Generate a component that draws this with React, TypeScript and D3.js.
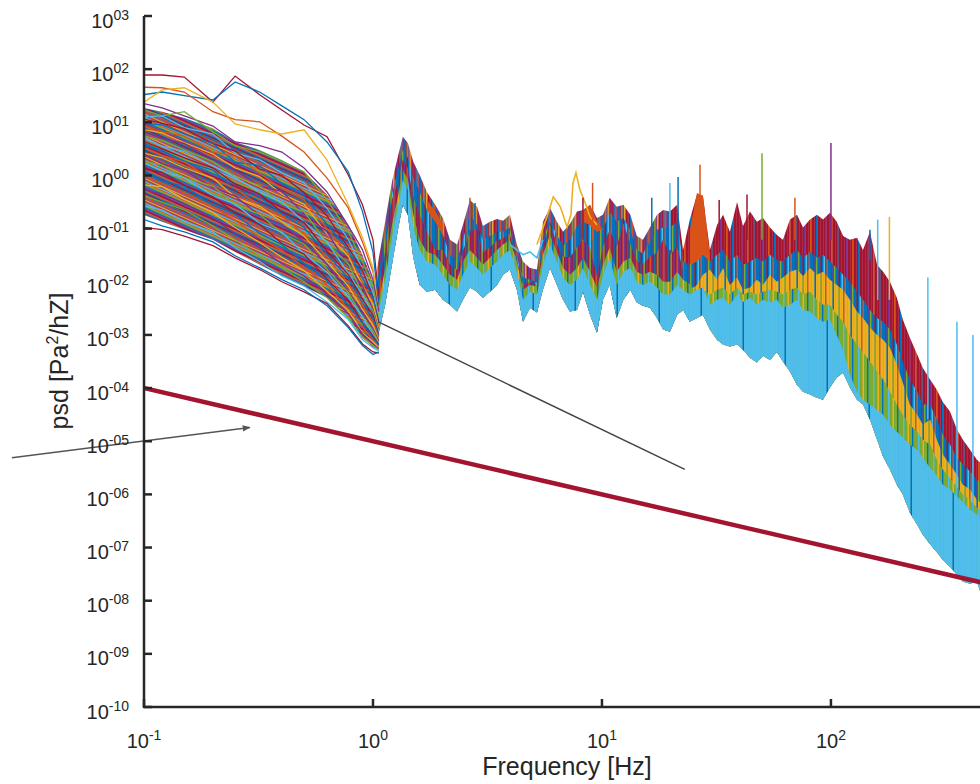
import * as d3 from "d3";
import { useEffect, useRef } from "react";

const W = 980;
const H = 784;
const font = "'Liberation Sans', Arial, Helvetica, sans-serif";

// matlab default line colours
const palette = ["#0072BD", "#D95319", "#EDB120", "#7E2F8E", "#77AC30", "#4DBEEE", "#A2142F"];
const [BL, OR, YE, PU, GR, SK, RD] = palette;

// axis ticks (exponents)
const yTickExps = [3, 2, 1, 0, -1, -2, -3, -4, -5, -6, -7, -8, -9, -10];
const xTickExps = [-1, 0, 1, 2];

// ---- low frequency fan of spectra (log10 psd) ----
const fanFreq = [0.1, 0.12, 0.15, 0.2, 0.25, 0.32, 0.4, 0.5, 0.63, 0.78, 0.9, 1.0, 1.06];
const fanCurves = [
  [1.89, 1.89, 1.85, 1.38, 1.87, 1.52, 1.23, 0.95, 0.73, 0.01, -0.55, -1.21, -2.34],
  [1.52, 1.57, 1.5, 1.42, 1.76, 1.57, 1.31, 1.05, 0.63, 0.07, -0.68, -1.44, -2.43],
  [1.66, 1.65, 1.57, 1.2, 1.05, 1.01, 0.74, 0.44, -0.05, -0.61, -1.25, -1.81, -2.53],
  [1.38, 1.61, 1.65, 1.38, 0.97, 0.86, 0.78, 0.86, 0.29, -0.55, -1.17, -1.74, -2.62],
  [1.35, 1.27, 1.12, 0.93, 0.63, 0.56, 0.44, 0.14, -0.31, -0.95, -1.4, -1.96, -2.56],
  [1.23, 1.12, 1.2, 0.82, 0.56, 0.44, 0.26, 0.07, -0.46, -1.06, -1.62, -2.08, -2.68],
  [1.1, 1.12, 0.9, 0.78, 0.42, 0.3, 0.05, -0.14, -0.62, -1.2, -1.76, -2.19, -2.71],
  [1.06, 0.98, 0.88, 0.6, 0.46, 0.12, 0.0, -0.32, -0.76, -1.36, -1.78, -2.3, -2.75],
  [0.98, 0.95, 0.78, 0.6, 0.25, 0.19, -0.16, -0.38, -0.92, -1.4, -1.93, -2.28, -2.81],
  [0.95, 0.82, 0.74, 0.44, 0.36, 0.04, -0.25, -0.46, -1.0, -1.48, -2.04, -2.38, -2.83],
  [0.86, 0.8, 0.62, 0.4, 0.14, -0.02, -0.35, -0.54, -1.1, -1.52, -2.08, -2.42, -2.86],
  [0.82, 0.7, 0.6, 0.3, 0.1, -0.2, -0.3, -0.72, -1.06, -1.7, -2.08, -2.52, -2.9],
  [0.74, 0.66, 0.48, 0.26, -0.02, -0.19, -0.54, -0.68, -1.28, -1.66, -2.22, -2.54, -2.94],
  [0.72, 0.55, 0.45, 0.18, -0.04, -0.31, -0.5, -0.87, -1.25, -1.84, -2.24, -2.62, -2.96],
  [0.64, 0.5, 0.33, 0.14, -0.16, -0.35, -0.69, -0.88, -1.43, -1.86, -2.33, -2.62, -3.0],
  [0.56, 0.47, 0.26, 0.1, -0.26, -0.4, -0.72, -0.98, -1.48, -1.93, -2.4, -2.7, -3.02],
  [0.52, 0.38, 0.25, -0.08, -0.24, -0.57, -0.77, -1.1, -1.52, -2.03, -2.44, -2.77, -3.05],
  [0.42, 0.33, 0.14, -0.05, -0.41, -0.58, -0.87, -1.14, -1.62, -2.08, -2.52, -2.82, -3.09],
  [0.4, 0.22, 0.1, -0.23, -0.39, -0.75, -0.92, -1.25, -1.67, -2.18, -2.58, -2.88, -3.11],
  [0.27, 0.2, -0.04, -0.2, -0.56, -0.73, -1.09, -1.29, -1.77, -2.2, -2.66, -2.92, -3.15],
  [0.24, 0.08, -0.05, -0.38, -0.54, -0.9, -1.07, -1.47, -1.82, -2.29, -2.66, -2.99, -3.17],
  [0.12, 0.06, -0.19, -0.4, -0.71, -0.92, -1.28, -1.48, -1.95, -2.35, -2.77, -3.02, -3.18],
  [0.08, -0.1, -0.2, -0.56, -0.73, -1.09, -1.3, -1.65, -1.98, -2.44, -2.78, -3.06, -3.2],
  [-0.02, -0.15, -0.32, -0.6, -0.84, -1.17, -1.41, -1.73, -2.06, -2.51, -2.85, -3.1, -3.22],
  [-0.18, -0.21, -0.45, -0.7, -0.98, -1.26, -1.54, -1.79, -2.18, -2.54, -2.96, -3.13, -3.24],
  [-0.27, -0.35, -0.53, -0.8, -1.1, -1.36, -1.66, -1.89, -2.23, -2.6, -2.98, -3.17, -3.26],
  [-0.38, -0.5, -0.65, -0.95, -1.21, -1.51, -1.74, -2.0, -2.3, -2.68, -3.05, -3.2, -3.28],
  [-0.57, -0.65, -0.87, -1.06, -1.36, -1.62, -1.89, -2.08, -2.38, -2.71, -3.09, -3.24, -3.3],
  [-0.98, -1.02, -1.14, -1.32, -1.55, -1.77, -2.0, -2.19, -2.41, -2.83, -3.17, -3.32, -3.34],
  [-0.83, -0.95, -1.06, -1.25, -1.51, -1.74, -1.96, -2.15, -2.45, -2.86, -3.2, -3.37, -3.32],
];
const fanCoreTop = [1.27, 1.2, 1.08, 0.89, 0.63, 0.48, 0.29, 0.07, -0.36, -0.93, -1.49, -2.0, -2.43];
const fanCoreBottom = [-0.74, -0.87, -1.02, -1.21, -1.44, -1.68, -1.89, -2.09, -2.3, -2.68, -3.05, -3.24, -3.28];

// ---- the dense band above 1 Hz (log10 psd) ----
const bandFreq = [
  1.03, 1.13, 1.21, 1.29, 1.35, 1.42, 1.5, 1.6, 1.72, 1.87,
  2.02, 2.17, 2.33, 2.47, 2.65, 2.85, 3.02, 3.24, 3.48, 3.7,
  3.96, 4.25, 4.52, 4.85, 5.2, 5.52, 5.93, 6.36, 6.76, 7.25,
  7.78, 8.26, 8.87, 9.51, 10.1, 10.8, 11.6, 12.4, 13.3, 14.2,
  15.1, 16.2, 17.4, 18.5, 19.8, 21.3, 22.6, 24.2, 26.0, 27.6,
  29.6, 31.8, 33.8, 36.2, 38.9, 41.3, 44.3, 47.5, 50.5, 54.2,
  58.1, 61.7, 66.2, 71.1, 75.5, 81.0, 86.9, 92.3, 99.0, 106,
  113, 121, 130, 138, 148, 159, 169, 181, 194, 206,
  221, 238, 252, 271, 290, 308, 331, 355, 377, 405,
  434, 461, 500,
];
const bandTop = [
  -1.87, -0.87, -0.12, 0.39, 0.73, 0.61, 0.26, 0.01, -0.31, -0.55,
  -0.8, -1.21, -1.3, -0.93, -0.46, -0.59, -0.95, -0.87, -0.82, -0.85,
  -0.74, -1.3, -1.62, -1.74, -1.77, -0.87, -0.61, -0.87, -1.06, -0.91,
  -0.68, -0.65, -0.55, -0.8, -0.74, -0.42, -0.59, -0.55, -0.74, -1.14,
  -1.21, -0.98, -0.74, -0.65, -0.68, -0.55, -1.4, -0.83, -0.36, -0.38,
  -1.4, -0.93, -0.74, -1.06, -0.5, -0.95, -0.68, -0.87, -0.8, -0.98,
  -1.12, -1.21, -0.83, -0.74, -0.98, -0.83, -0.74, -0.83, -0.7, -0.87,
  -1.14, -1.21, -1.17, -1.4, -1.06, -1.68, -1.81, -2.0, -2.3, -2.71,
  -3.05, -3.37, -3.62, -3.84, -4.03, -4.26, -4.44, -4.78, -4.97, -5.16,
  -5.35, -5.44, -5.53,
];
const bandBottom = [
  -3.18, -2.43, -1.68, -0.98, -0.55, -0.74, -1.55, -2.06, -2.19, -2.15,
  -2.34, -2.43, -2.56, -2.34, -2.11, -2.19, -2.3, -2.19, -2.06, -1.87,
  -1.77, -2.15, -2.75, -2.49, -2.58, -2.15, -1.74, -2.06, -2.34, -2.56,
  -2.53, -2.19, -2.62, -2.96, -2.34, -2.06, -2.68, -2.34, -2.15, -2.39,
  -2.45, -2.49, -2.68, -2.9, -2.94, -2.62, -2.53, -2.75, -2.68, -2.62,
  -2.9, -3.09, -3.18, -3.22, -3.18, -3.28, -3.43, -3.52, -3.39, -3.47,
  -3.32, -3.5, -3.69, -3.94, -4.07, -4.12, -4.18, -4.22, -3.99, -3.8,
  -3.71, -3.99, -4.22, -4.31, -4.59, -4.97, -5.29, -5.53, -5.82, -6.0,
  -6.34, -6.57, -6.76, -6.94, -7.09, -7.23, -7.36, -7.51, -7.64, -7.68,
  -7.64, -7.98, -7.98,
];
const orangeTop = [
  null, null, null, null, null, null, null, null, -0.46, -0.68,
  -0.91, null, null, null, null, null, null, null, null, null,
  null, null, null, null, null, null, null, null, null, null,
  null, -0.68, -0.55, -0.87, -1.02, null, null, null, null, null,
  null, null, null, null, null, null, null, -1.02, -0.33, -0.38,
  -1.49,
];
const blueTop = [
  -2.15, -1.12, -0.36, 0.14, 0.48, 0.33, -0.05, -0.31, -0.65, -0.87,
  -1.12, -1.49, -1.59, -1.21, -0.74, -0.93, -1.21, -1.14, -1.06, -1.06,
  -0.98, -1.55, -1.92, -1.96, -2.02, -1.17, -0.87, -1.12, -1.32, -1.21,
  -0.95, -0.87, -0.93, -1.06, -1.02, -0.68, -0.87, -0.8, -1.02, -1.4,
  -1.47, -1.25, -1.02, -0.98, -0.98, -0.87, -1.62, -1.68, -1.62, -1.49,
  -1.62, -1.49, -1.4, -1.62, -1.49, -1.68, -1.62, -1.55, -1.62, -1.49,
  -1.59, -1.62, -1.49, -1.4, -1.55, -1.44, -1.55, -1.49, -1.62, -1.74,
  -1.87, -2.0, -2.19, -2.34, -2.53, -2.68, -2.75, -2.9, -3.18, -3.5,
  -3.84, -4.07, -4.31, -4.31, -4.59, -4.88, -5.06, -5.31, -5.44, -5.57,
  -5.72, -5.82, -5.91,
];
const redMidTop = [
  -2.42, -1.43, -0.45, -0.11, 0.3, 0.13, -0.4, -0.76, -1.05, -1.4,
  -1.4, -1.68, -1.78, -1.42, -1.07, -1.0, -1.45, -1.35, -1.23, -1.18,
  -1.1, -1.59, -2.04, -2.01, -2.06, -1.33, -0.92, -1.28, -1.53, -1.54,
  -1.35, -1.21, -1.37, -1.9, -1.35, -1.02, -1.34, -0.9, -1.29, -1.61,
  -1.67, -1.53, -1.45, -1.2, -1.49, -1.34, -1.79,
];
const yellowTop = [
  null, null, null, null, null, null, null, null, null, null,
  null, null, null, null, null, null, null, null, null, null,
  null, null, null, null, null, null, null, null, null, null,
  null, null, null, null, null, null, null, null, null, null,
  null, null, null, null, null, null, null, -2.15, -2.06, -1.87,
  -1.77, -1.96, -1.74, -2.06, -1.92, -2.15, -2.11, -1.96, -2.06, -1.87,
  -2.0, -1.92, -1.81, -1.77, -1.89, -1.74, -1.87, -1.81, -1.96, -2.06,
  -2.15, -2.34, -2.56, -2.68, -2.86, -3.0, -3.09, -3.24, -3.56, -3.9,
  -4.31, -4.5, -4.69, -4.59, -4.97, -5.25, -5.44, -5.63, -5.82, -5.91,
  -6.1, -6.19, -6.29,
];
const greenTop = [
  -2.68, -1.74, -0.93, -0.36, 0.11, -0.08, -0.74, -1.21, -1.44, -1.49,
  -1.68, -1.87, -1.96, -1.62, -1.4, -1.55, -1.68, -1.55, -1.4, -1.3,
  -1.21, -1.62, -2.15, -2.06, -2.09, -1.49, -1.12, -1.44, -1.74, -1.87,
  -1.74, -1.55, -1.81, -2.11, -1.68, -1.36, -1.81, -1.62, -1.55, -1.81,
  -1.87, -1.81, -1.87, -2.0, -2.0, -1.81, -1.96, -2.04, -2.24, -2.15,
  -2.24, -2.15, -2.11, -2.24, -2.11, -2.24, -2.19, -2.24, -2.19, -2.15,
  -2.19, -2.24, -2.15, -2.11, -2.24, -2.19, -2.34, -2.43, -2.43, -2.62,
  -2.75, -3.0, -3.18, -3.32, -3.5, -3.69, -3.84, -4.07, -4.31, -4.5,
  -4.69, -4.82, -4.97, -5.06, -5.35, -5.53, -5.69, -5.86, -6.0, -6.1,
  -6.25, -6.32, -6.44,
];
const skyTop = [
  -2.81, -1.96, -1.17, -0.55, -0.08, -0.27, -0.98, -1.4, -1.62, -1.68,
  -1.87, -2.06, -2.15, -1.87, -1.62, -1.74, -1.87, -1.74, -1.62, -1.49,
  -1.4, -1.81, -2.34, -2.19, -2.24, -1.68, -1.3, -1.62, -1.92, -2.06,
  -1.96, -1.74, -2.06, -2.34, -1.87, -1.55, -2.06, -1.81, -1.74, -2.0,
  -2.06, -2.0, -2.11, -2.24, -2.24, -2.06, -2.15, -2.24, -2.15, -2.11,
  -2.43, -2.34, -2.3, -2.43, -2.24, -2.38, -2.3, -2.43, -2.34, -2.39,
  -2.34, -2.49, -2.43, -2.34, -2.53, -2.56, -2.68, -2.75, -2.71, -3.0,
  -3.28, -3.75, -4.07, -4.22, -4.31, -4.41, -4.5, -4.69, -4.82, -4.93,
  -5.06, -5.16, -5.31, -5.5, -5.65, -5.82, -5.91, -6.04, -6.15, -6.29,
  -6.38, -6.48, -6.57,
];

// single spectra standing out of the band
const yellowOutFreq = [5.2, 5.75, 6.13, 6.58, 7.04, 7.32, 7.47, 7.7, 8.01, 8.42, 8.87, 9.51];
const yellowOutPsd = [-1.3, -0.78, -0.4, -0.59, -0.97, -0.74, -0.14, 0.05, -0.27, -0.5, -0.78, -0.93];
const skyOutFreq = [3.96, 4.25, 4.52, 4.85, 5.2, 5.52];
const skyOutPsd = [-1.3, -1.4, -1.49, -1.44, -1.55, -1.21];

// narrow peaks (log10 psd top / foot) and the series they belong to
const spikeFreq = [2.65, 2.79, 8.26, 9.1, 16.5, 19.8, 21.5, 26.8, 32.5, 43, 50, 69.6, 100, 148, 160, 180, 265, 355, 417];
const spikeTop = [-0.42, -0.52, -0.42, -0.14, -0.42, -0.14, -0.03, 0.2, -0.46, -0.36, 0.42, -0.42, 0.61, -1.02, -0.83, -0.78, -1.92, -2.75, -3.0];
const spikeFoot = [-1.02, -1.02, -1.21, -1.21, -1.21, -1.4, -1.4, -0.83, -1.21, -1.21, -1.21, -1.21, -1.21, -1.6, -2.34, -2.34, -4.59, -7.23, -7.6];
const spikeSeries = [1, 0, 6, 1, 0, 5, 0, 1, 6, 6, 4, 1, 3, 0, 5, 2, 5, 5, 5];

// reference slope
const refFreq = [0.1, 500];
const refPsd = [1e-4, 2e-8];

// annotation strokes [freq, log10 psd]
const pointerLine = [[1.05, -2.75], [23.0, -5.53]];
const arrowLine = [[0.0265, -5.31], [0.29, -4.74]];

const App = () => {
  const svgRef = useRef<SVGSVGElement>(null);

  useEffect(() => {
    const svg = d3.select(svgRef.current);
    svg.selectAll("*").remove();

    const x = d3.scaleLog().domain([0.1, 500]).range([144, 991]);
    const y = d3.scaleLog().domain([1e-10, 1e3]).range([707, 16]);
    const p = (v: number) => y(Math.pow(10, v));

    const defs = svg.append("defs");
    defs
      .append("clipPath")
      .attr("id", "plotClip")
      .append("rect")
      .attr("x", 145)
      .attr("y", 16)
      .attr("width", W - 145)
      .attr("height", 707 - 16);
    defs
      .append("marker")
      .attr("id", "arrowHead")
      .attr("viewBox", "0 0 10 10")
      .attr("refX", 9)
      .attr("refY", 5)
      .attr("markerWidth", 8)
      .attr("markerHeight", 8)
      .attr("markerUnits", "userSpaceOnUse")
      .attr("orient", "auto")
      .append("path")
      .attr("d", "M0,1 L10,5 L0,9 z")
      .attr("fill", "#555");

    // streaky textures standing in for hundreds of overplotted spectra
    const stripes = (id: string, colors: string[], sw: number, angle: number) => {
      const pat = defs
        .append("pattern")
        .attr("id", id)
        .attr("patternUnits", "userSpaceOnUse")
        .attr("width", colors.length * sw)
        .attr("height", 20)
        .attr("patternTransform", `rotate(${angle})`);
      colors.forEach((c, i) => {
        pat.append("rect").attr("x", i * sw).attr("y", 0).attr("width", sw + 0.3).attr("height", 20).attr("fill", c);
      });
      return `url(#${id})`;
    };
    const fanMix = stripes("fanMix", [RD, BL, OR, PU, YE, RD, SK, OR, GR, BL, PU, RD, OR, BL], 1.4, 114);
    const lowTop = stripes("lowTop", [PU, RD, BL, OR, PU, BL, RD, GR, PU, YE, RD], 1.5, 0);
    const blueMix = stripes("blueMix", [BL, BL, PU, BL, GR, BL, BL, RD, BL, SK, BL, OR], 1.5, 0);
    const redMix = stripes("redMix", [RD, OR, PU, RD, BL, RD, GR, RD, PU], 1.5, 0);
    const redHigh = stripes("redHigh", [RD, RD, RD, RD, PU, RD, RD, RD, OR, RD, RD, RD, BL, RD], 1.5, 0);
    const yellowMix = stripes("yellowMix", [YE, YE, YE, BL, YE, YE, YE, GR, YE, YE, OR, YE], 1.5, 0);
    const greenMix = stripes("greenMix", [GR, GR, SK, GR, GR, YE, GR, GR, BL, GR], 1.5, 0);
    const skyMix = stripes(
      "skyMix",
      [SK, SK, SK, SK, SK, SK, SK, SK, SK, SK, SK, SK, SK, SK, SK, SK, SK, SK, SK, BL, SK, SK, SK, SK, SK, SK, SK, SK],
      1.5,
      0
    );

    const plot = svg.append("g").attr("clip-path", "url(#plotClip)");

    // dense core of the fan
    const coreArea = d3
      .area<number>()
      .x((d) => x(d))
      .y0((_, i) => p(fanCoreBottom[i]))
      .y1((_, i) => p(fanCoreTop[i]));
    plot.append("path").datum(fanFreq).attr("d", coreArea).attr("fill", fanMix);

    // band layers, back to front
    const bandArea = (top: (number | null)[], keep: (i: number) => boolean) =>
      d3
        .area<number>()
        .curve(d3.curveLinear)
        .defined((_, i) => top[i] != null && keep(i))
        .x((d) => x(d))
        .y0((_, i) => p(bandBottom[i]))
        .y1((_, i) => p(top[i] as number));

    const layers: [(number | null)[], (i: number) => boolean, string][] = [
      [bandTop, (i) => i <= 44, lowTop],
      [bandTop, (i) => i >= 44, redHigh],
      [orangeTop, () => true, OR],
      [blueTop, () => true, blueMix],
      [redMidTop, () => true, redMix],
      [yellowTop, () => true, yellowMix],
      [greenTop, () => true, greenMix],
      [skyTop, () => true, skyMix],
    ];
    layers.forEach(([top, keep, fill]) => {
      plot.append("path").datum(bandFreq).attr("d", bandArea(top, keep)).attr("fill", fill);
    });

    // fan spectra
    const fanLine = d3
      .line<number>()
      .x((_, i) => x(fanFreq[i]))
      .y((v) => p(v));
    fanCurves.forEach((c, i) => {
      plot
        .append("path")
        .attr("d", fanLine(c))
        .attr("fill", "none")
        .attr("stroke", palette[(i + 6) % 7])
        .attr("stroke-width", 1.3);
    });

    // outlying spectra
    const outLine = (fs: number[]) =>
      d3
        .line<number>()
        .x((_, i) => x(fs[i]))
        .y((v) => p(v));
    plot
      .append("path")
      .attr("d", outLine(skyOutFreq)(skyOutPsd))
      .attr("fill", "none")
      .attr("stroke", SK)
      .attr("stroke-width", 1.6);
    plot
      .append("path")
      .attr("d", outLine(yellowOutFreq)(yellowOutPsd))
      .attr("fill", "none")
      .attr("stroke", YE)
      .attr("stroke-width", 1.6);

    // narrow peaks
    spikeFreq.forEach((f, i) => {
      plot
        .append("line")
        .attr("x1", x(f))
        .attr("x2", x(f))
        .attr("y1", p(spikeTop[i]))
        .attr("y2", p(spikeFoot[i]))
        .attr("stroke", palette[spikeSeries[i]])
        .attr("stroke-width", 1.5);
    });

    // reference slope
    plot
      .append("path")
      .attr(
        "d",
        d3
          .line<number>()
          .x((_, i) => x(refFreq[i]))
          .y((v) => y(v))(refPsd)
      )
      .attr("stroke", RD)
      .attr("stroke-width", 4.5)
      .attr("fill", "none");

    // annotation strokes
    const annLine = d3
      .line<number[]>()
      .x((d) => x(d[0]))
      .y((d) => p(d[1]));
    svg
      .append("path")
      .attr("d", annLine(pointerLine))
      .attr("stroke", "#444")
      .attr("stroke-width", 1.5)
      .attr("fill", "none");
    svg
      .append("path")
      .attr("d", annLine(arrowLine))
      .attr("stroke", "#555")
      .attr("stroke-width", 1.5)
      .attr("fill", "none")
      .attr("marker-end", "url(#arrowHead)");

    // axes
    const axis = svg.append("g").attr("stroke", "#262626").attr("stroke-width", 2.5);
    axis.append("line").attr("x1", 144).attr("x2", 144).attr("y1", 16).attr("y2", 708);
    axis.append("line").attr("x1", 143).attr("x2", 991).attr("y1", 707).attr("y2", 707);
    yTickExps.forEach((e) => {
      axis
        .append("line")
        .attr("x1", 144)
        .attr("x2", 152)
        .attr("y1", y(Math.pow(10, e)))
        .attr("y2", y(Math.pow(10, e)));
    });
    xTickExps.forEach((e) => {
      axis
        .append("line")
        .attr("x1", x(Math.pow(10, e)))
        .attr("x2", x(Math.pow(10, e)))
        .attr("y1", 707)
        .attr("y2", 699);
    });

    const labels = svg.append("g").attr("font-family", font).attr("fill", "#262626");
    const ySup = (e: number) => (e < 0 ? "-" : "") + String(Math.abs(e)).padStart(2, "0");
    yTickExps.forEach((e) => {
      const t = labels
        .append("text")
        .attr("x", 129)
        .attr("y", y(Math.pow(10, e)) + 11.5)
        .attr("text-anchor", "end")
        .attr("font-size", 20);
      t.append("tspan").text("10");
      t.append("tspan").attr("font-size", 14).attr("dy", -8).text(ySup(e));
    });
    xTickExps.forEach((e) => {
      const t = labels
        .append("text")
        .attr("x", x(Math.pow(10, e)))
        .attr("y", 748)
        .attr("text-anchor", "middle")
        .attr("font-size", 20);
      t.append("tspan").text("10");
      t.append("tspan").attr("font-size", 14).attr("dy", -8).text(String(e));
    });

    labels
      .append("text")
      .attr("x", 567)
      .attr("y", 775)
      .attr("text-anchor", "middle")
      .attr("font-size", 25)
      .text("Frequency [Hz]");
    const yt = labels
      .append("text")
      .attr("transform", "translate(68,361) rotate(-90)")
      .attr("text-anchor", "middle")
      .attr("font-size", 25);
    yt.append("tspan").text("psd [Pa");
    yt.append("tspan").attr("font-size", 16).attr("dy", -10).text("2");
    yt.append("tspan").attr("dy", 10).text("/hZ]");
  }, []);

  return (
    <div>
      <svg
        ref={svgRef}
        width={W}
        height={H}
        style={{ position: "absolute", left: 0, top: 0, background: "#fff" }}
      ></svg>
    </div>
  );
};

export default App;
